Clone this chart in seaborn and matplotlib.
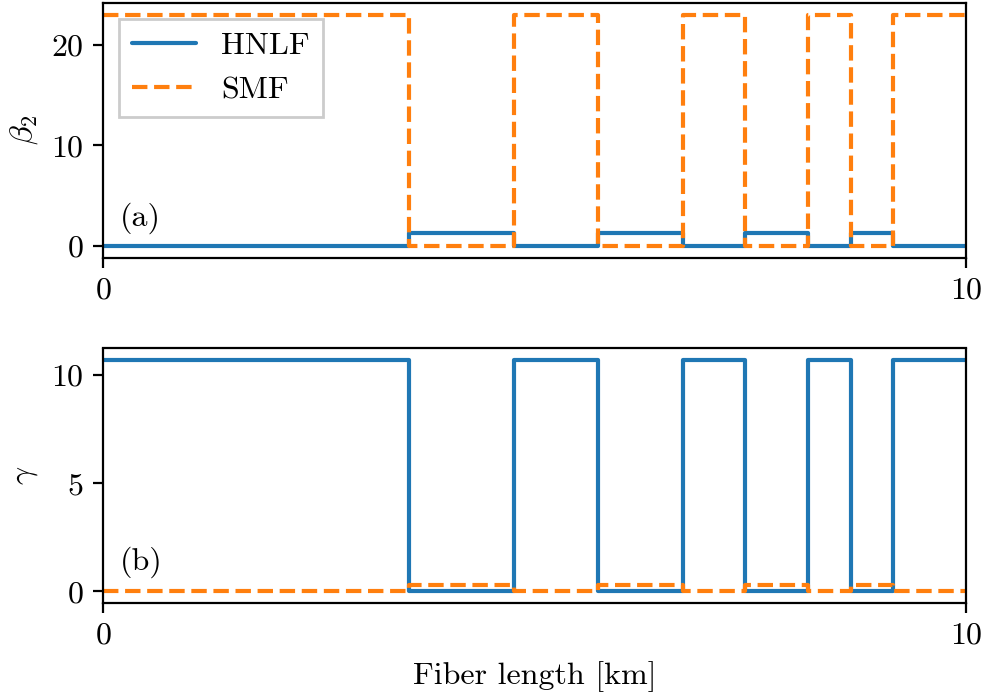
import numpy as np
import pandas as pd
import matplotlib
matplotlib.use('Agg')
import matplotlib.pyplot as plt
import seaborn as sns

# segment boundaries along the fiber [km]
edges = [0, 3.54, 4.76, 5.74, 6.72, 7.44, 8.17, 8.67, 9.15, 10]
# value on each segment (SMF, HNLF, SMF, ...)
beta2_hnlf = [0, 1.3, 0, 1.3, 0, 1.3, 0, 1.3, 0]
beta2_smf = [23, 0, 23, 0, 23, 0, 23, 0, 23]
gamma_hnlf = [10.7, 0, 10.7, 0, 10.7, 0, 10.7, 0, 10.7]
gamma_smf = [0, 0.32, 0, 0.32, 0, 0.32, 0, 0.32, 0]

sns.set_style('white')
plt.rcParams['font.family'] = 'serif'
plt.rcParams['font.serif'] = ['cmr10']
plt.rcParams['mathtext.fontset'] = 'cm'
plt.rcParams['axes.formatter.use_mathtext'] = True
plt.rcParams['font.size'] = 11.5
plt.rcParams['axes.edgecolor'] = 'black'
plt.rcParams['axes.linewidth'] = 0.8
plt.rcParams['xtick.bottom'] = True
plt.rcParams['ytick.left'] = True
plt.rcParams['xtick.color'] = 'black'
plt.rcParams['ytick.color'] = 'black'
plt.rcParams['text.color'] = 'black'
plt.rcParams['axes.labelcolor'] = 'black'

colors = sns.color_palette('tab10')


def steps(vals):
    # steps-post needs the last value repeated at the end
    return pd.DataFrame({'x': edges, 'y': list(vals) + [vals[-1]]})


fig, axes = plt.subplots(2, 1, figsize=(4.93, 3.49), dpi=200)
fig.subplots_adjust(left=103/986, right=966/986, top=1-3/698, bottom=1-603/698,
                    hspace=91/254.5)

ax = axes[0]
sns.lineplot(data=steps(beta2_hnlf), x='x', y='y', ax=ax, drawstyle='steps-post',
             color=colors[0], lw=1.5, label='HNLF', estimator=None)
sns.lineplot(data=steps(beta2_smf), x='x', y='y', ax=ax, drawstyle='steps-post',
             color=colors[1], lw=1.5, ls='--', label='SMF', estimator=None)
ax.set_xlim(0, 10)
ax.set_xticks([0, 10])
ax.set_yticks([0, 10, 20])
ax.set_xlabel('')
ax.set_ylabel(r'$\beta_2$')
ax.text(0.2, 2, '(a)')
ax.legend(loc='upper left', fancybox=False, edgecolor='0.8', framealpha=1,
          handlelength=2.0, handletextpad=0.8)

ax = axes[1]
sns.lineplot(data=steps(gamma_hnlf), x='x', y='y', ax=ax, drawstyle='steps-post',
             color=colors[0], lw=1.5, estimator=None)
sns.lineplot(data=steps(gamma_smf), x='x', y='y', ax=ax, drawstyle='steps-post',
             color=colors[1], lw=1.5, ls='--', estimator=None)
ax.set_xlim(0, 10)
ax.set_xticks([0, 10])
ax.set_yticks([0, 5, 10])
ax.set_xlabel('Fiber length [km]')
ax.set_ylabel(r'$\gamma$')
ax.text(0.2, 1, '(b)')

fig.savefig('out.png', dpi=200)
